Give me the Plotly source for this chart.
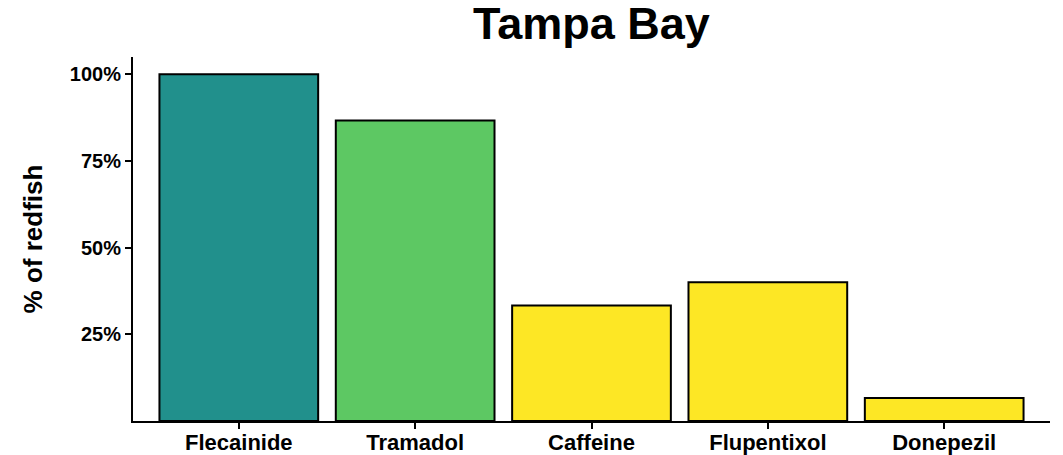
import plotly.graph_objects as go

categories = ["Flecainide", "Tramadol", "Caffeine", "Flupentixol", "Donepezil"]
values = [1.0, 13/15, 1/3, 0.40, 1/15]
colors = ["#21908C", "#5DC863", "#FDE725", "#FDE725", "#FDE725"]
tick_vals = [0.25, 0.5, 0.75, 1.0]
tick_text = ["25%", "50%", "75%", "100%"]

font_family = "Liberation Sans, Arial, sans-serif"

fig = go.Figure(go.Bar(
    x=list(range(len(categories))),
    y=values,
    width=0.9,
    marker=dict(color=colors, line=dict(color="black", width=2)),
))

fig.update_layout(
    width=1063, height=455,
    margin=dict(l=133, r=13, t=57, b=34, autoexpand=False),
    paper_bgcolor="white", plot_bgcolor="white",
    showlegend=False,
    title=dict(text="<b>Tampa Bay</b>", x=(133 + 1050) / 2 / 1063, xanchor="center",
               y=1 - 23 / 455, yanchor="middle",
               font=dict(family=font_family, size=45, color="black")),
    font=dict(family=font_family, color="black"),
)
fig.update_xaxes(
    range=[-0.6, 4.6], tickmode="array",
    tickvals=list(range(len(categories))),
    ticktext=[f"<b>{c}</b>" for c in categories],
    showline=True, linecolor="black", linewidth=2,
    ticks="outside", ticklen=6, tickwidth=2, tickcolor="black",
    ticklabelstandoff=-5,
    tickfont=dict(size=22, family=font_family, color="black"),
    showgrid=False, zeroline=False, fixedrange=True, automargin=False,
)
fig.update_yaxes(
    range=[0, 1.05], tickmode="array", tickvals=tick_vals,
    ticktext=[f"<b>{t}</b>" for t in tick_text],
    showline=True, linecolor="black", linewidth=2,
    ticks="outside", ticklen=6, tickwidth=2, tickcolor="black",
    tickfont=dict(size=20, family=font_family, color="black"),
    title=dict(text="<b>% of redfish</b>", font=dict(size=26, family=font_family, color="black"), standoff=20),
    showgrid=False, zeroline=False, fixedrange=True, automargin=False,
)

fig.write_html("out.html", config={"displayModeBar": False},
               post_script="document.body.style.margin='0';document.body.style.overflow='hidden';")
